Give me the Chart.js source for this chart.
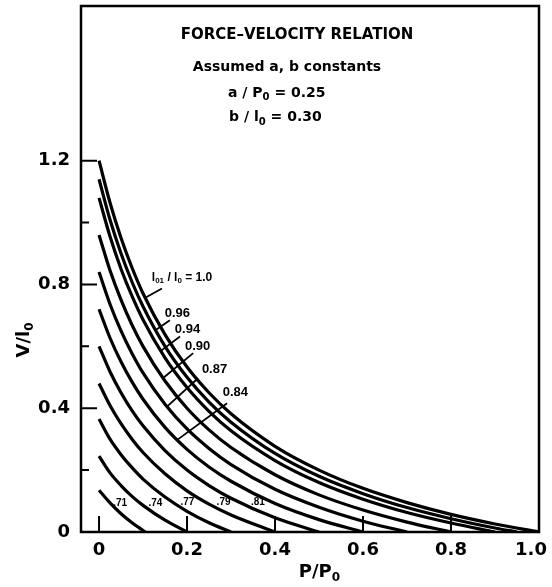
<!DOCTYPE html>
<html><head><meta charset="utf-8">
<script src="https://cdn.jsdelivr.net/npm/chart.js@4.4.1/dist/chart.umd.min.js"></script>
<style>html,body{margin:0;padding:0;background:#fff;}canvas{display:block}</style>
</head><body>
<canvas id="chart" width="552" height="587"></canvas>
<script>
// ---------- values ----------
// P/P0 sample positions along every curve
const loadGrid = [0, 0.025, 0.05, 0.075, 0.1, 0.15, 0.2, 0.25, 0.3, 0.4, 0.5, 0.6, 0.7, 0.8, 0.9];
// curve labels (l01/l0) and the load where each curve meets V = 0
const lengthRatios   = ['1.0', '0.96', '0.94', '0.90', '0.87', '0.84', '.81', '.79', '.77', '.74', '.71'];
const isometricLoads = [1.0, 0.95, 0.9, 0.8, 0.7, 0.6, 0.5, 0.4, 0.3, 0.2, 0.105];
// V/l0 of each curve at the loadGrid positions (up to its isometric load)
const v_100 = [1.20, 1.064, 0.95, 0.854, 0.771, 0.638, 0.533, 0.45, 0.382, 0.277, 0.20, 0.141, 0.095, 0.057, 0.026];
const v_096 = [1.14, 1.009, 0.90, 0.808, 0.729, 0.60, 0.50, 0.42, 0.355, 0.254, 0.18, 0.124, 0.079, 0.043, 0.013];
const v_094 = [1.08, 0.955, 0.85, 0.762, 0.686, 0.563, 0.467, 0.39, 0.327, 0.231, 0.16, 0.106, 0.063, 0.029];
const v_090 = [0.96, 0.845, 0.75, 0.669, 0.60, 0.488, 0.40, 0.33, 0.273, 0.185, 0.12, 0.071, 0.032];
const v_087 = [0.84, 0.736, 0.65, 0.577, 0.514, 0.413, 0.333, 0.27, 0.218, 0.138, 0.08, 0.035];
const v_084 = [0.72, 0.627, 0.55, 0.485, 0.429, 0.338, 0.267, 0.21, 0.164, 0.092, 0.04];
const v_081 = [0.60, 0.518, 0.45, 0.392, 0.343, 0.263, 0.20, 0.15, 0.109, 0.046];
const v_079 = [0.48, 0.409, 0.35, 0.30, 0.257, 0.188, 0.133, 0.09, 0.055];
const v_077 = [0.365, 0.30, 0.25, 0.208, 0.171, 0.113, 0.067, 0.03];
const v_074 = [0.245, 0.191, 0.15, 0.115, 0.086, 0.038];
const v_071 = [0.135, 0.094, 0.059, 0.030, 0.005];
const curveValues = [v_100, v_096, v_094, v_090, v_087, v_084, v_081, v_079, v_077, v_074, v_071];
// axis ticks
const xTickValues = [0, 0.2, 0.4, 0.6, 0.8, 1.0];
const yTickValues = [0, 0.4, 0.8, 1.2];
const yMinorTickValues = [0.2, 0.6, 1.0];

// ---------- annotation placement (data coordinates) ----------
const labelSpots = [ // [P, V] centre of each curve label
  [0.1886, 0.823], [0.178, 0.708], [0.201, 0.655], [0.224, 0.600], [0.2625, 0.526], [0.31, 0.45],
  [0.361, 0.095], [0.283, 0.095], [0.201, 0.095], [0.128, 0.092], [0.048, 0.092]
];
const leaderLines = [ // [P1, V1, P2, V2]
  [0.143, 0.787, 0.105, 0.757],
  [0.161, 0.684, 0.128, 0.652],
  [0.184, 0.632, 0.142, 0.587],
  [0.214, 0.578, 0.145, 0.497],
  [0.225, 0.497, 0.1545, 0.405],
  [0.291, 0.416, 0.177, 0.297]
];

const FONT = "'DejaVu Sans', sans-serif";
const LFONT = "'Liberation Sans', Arial, sans-serif";

const datasets = curveValues.map((vals, i) => ({
  label: lengthRatios[i],
  data: vals.map((v, j) => ({x: loadGrid[j], y: v})).concat([{x: isometricLoads[i], y: 0}]),
  borderColor: '#000',
  borderWidth: 3.2,
  pointRadius: 0,
  fill: false,
  cubicInterpolationMode: 'monotone'
}));

function drawRich(ctx, parts, x, y, size, align, family) {
  const fMain = `bold ${size}px ${family}`;
  const fSub = `bold ${Math.round(size * 0.68)}px ${family}`;
  let w = 0;
  parts.forEach(([t, s]) => { ctx.font = s ? fSub : fMain; w += ctx.measureText(t).width; });
  let cx = align === 'center' ? x - w / 2 : (align === 'right' ? x - w : x);
  ctx.textAlign = 'left';
  ctx.textBaseline = 'middle';
  parts.forEach(([t, s]) => {
    ctx.font = s ? fSub : fMain;
    ctx.fillText(t, cx, y + (s ? size * 0.32 : 0));
    cx += ctx.measureText(t).width;
  });
}

const annotPlugin = {
  id: 'annot',
  beforeDraw(chart) {
    const sx = chart.scales.x;
    const items = sx.getLabelItems();
    const last = items[items.length - 1];
    if (last && !last._shifted) {
      if (last.options && last.options.translation) last.options.translation[0] -= 8;
      else if ('x' in last) last.x -= 8;
      last._shifted = true;
    }
  },
  afterDatasetsDraw(chart) {
    const {ctx, chartArea: a, scales: {x, y}} = chart;
    const px = v => x.getPixelForValue(v), py = v => y.getPixelForValue(v);
    ctx.save();
    ctx.strokeStyle = '#000';
    ctx.fillStyle = '#000';
    ctx.lineCap = 'butt';
    // frame
    ctx.lineWidth = 2.5;
    ctx.strokeRect(a.left, a.top, a.right - a.left, a.bottom - a.top);
    // inward ticks
    ctx.lineWidth = 2;
    ctx.beginPath();
    yTickValues.filter(v => v > 0).forEach(v => { ctx.moveTo(a.left, py(v)); ctx.lineTo(a.left + 16, py(v)); });
    yMinorTickValues.forEach(v => { ctx.moveTo(a.left, py(v)); ctx.lineTo(a.left + 8, py(v)); });
    xTickValues.filter(v => v < 1).forEach(v => { ctx.moveTo(px(v), a.bottom); ctx.lineTo(px(v), a.bottom - 16); });
    ctx.stroke();
    // leader lines
    ctx.lineWidth = 1.8;
    ctx.beginPath();
    leaderLines.forEach(([p1, v1, p2, v2]) => { ctx.moveTo(px(p1), py(v1)); ctx.lineTo(px(p2), py(v2)); });
    ctx.stroke();
    // curve labels
    lengthRatios.forEach((t, i) => {
      const [p, v] = labelSpots[i];
      if (i === 0) {
        drawRich(ctx, [['l', 0], ['01', 1], [' / ', 0], ['l', 0], ['0', 1], [' = 1.0', 0]], px(p), py(v), 12, 'center', LFONT);
      } else if (i < 6) {
        drawRich(ctx, [[t, 0]], px(p), py(v), 13, 'center', LFONT);
      } else {
        drawRich(ctx, [[t, 0]], px(p), py(v), 10, 'center', LFONT);
      }
    });
    // title block
    drawRich(ctx, [['FORCE\u2013VELOCITY RELATION', 0]], px(0.45), py(1.606), 15, 'center', FONT);
    drawRich(ctx, [['Assumed a, b constants', 0]], px(0.4273), py(1.503), 14, 'center', FONT);
    drawRich(ctx, [['a / P', 0], ['0', 1], [' = 0.25', 0]], px(0.2932), py(1.419), 14, 'left', FONT);
    drawRich(ctx, [['b / l', 0], ['0', 1], [' = 0.30', 0]], px(0.2955), py(1.339), 14, 'left', FONT);
    // axis titles
    drawRich(ctx, [['P/P', 0], ['0', 1]], 319.5, 572, 18, 'center', FONT);
    ctx.translate(24, 340);
    ctx.rotate(-Math.PI / 2);
    drawRich(ctx, [['V/l', 0], ['0', 1]], 0, 0, 18, 'center', FONT);
    ctx.restore();
  }
};

new Chart(document.getElementById('chart'), {
  type: 'line',
  data: {datasets},
  options: {
    responsive: false,
    animation: false,
    devicePixelRatio: 1,
    layout: {padding: {top: 6, right: 13, left: 0, bottom: 0}},
    plugins: {legend: {display: false}, tooltip: {enabled: false}, title: {display: false}},
    scales: {
      x: {
        type: 'linear', min: -0.041, max: 1.0,
        grid: {display: false, drawTicks: false},
        border: {display: false},
        afterBuildTicks: s => { s.ticks = xTickValues.map(v => ({value: v})); },
        afterFit: s => { s.height = 55; s.paddingLeft = 0; s.paddingRight = 0; },
        ticks: {
          font: {family: FONT, size: 18, weight: 'bold'}, color: '#000', padding: 8,
          maxRotation: 0, autoSkip: false,
          callback: v => v === 0 ? '0' : v.toFixed(1)
        }
      },
      y: {
        type: 'linear', min: 0, max: 1.7,
        grid: {display: false, drawTicks: false},
        border: {display: false},
        afterBuildTicks: s => { s.ticks = yTickValues.map(v => ({value: v})); },
        afterFit: s => { s.width = 81; s.paddingTop = 0; s.paddingBottom = 0; },
        ticks: {
          font: {family: FONT, size: 18, weight: 'bold'}, color: '#000', padding: 11,
          autoSkip: false,
          callback: v => v === 0 ? '0' : v.toFixed(1)
        }
      }
    }
  },
  plugins: [annotPlugin]
});
</script>
</body></html>
